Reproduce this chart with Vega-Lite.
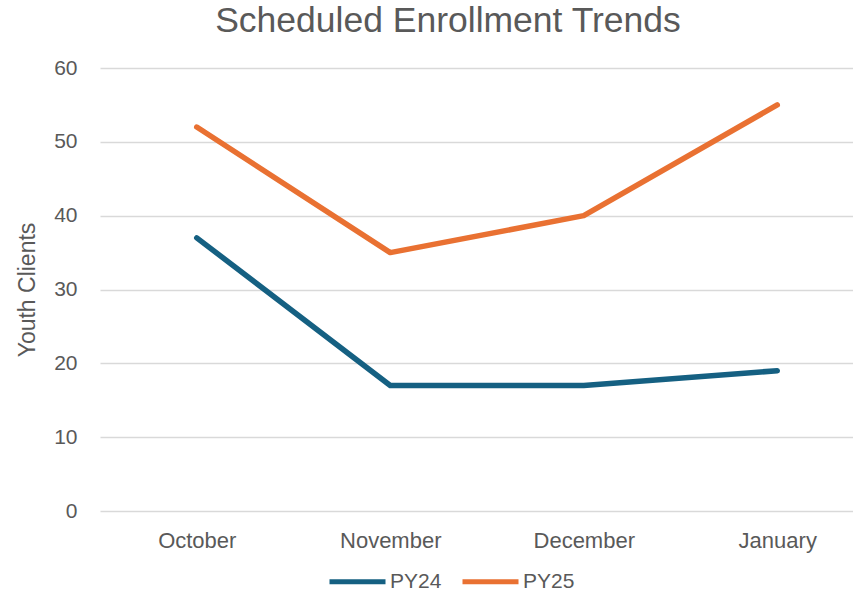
{
  "$schema": "https://vega.github.io/schema/vega-lite/v6.json",
  "autosize": {"type": "none"},
  "width": 774,
  "height": 443,
  "padding": {"left": 100, "top": 68, "right": 0, "bottom": 80},
  "background": "white",
  "config": {
    "view": {"stroke": null},
    "font": "Liberation Sans"
  },
  "title": {
    "text": "Scheduled Enrollment Trends",
    "anchor": "middle",
    "dx": -39,
    "offset": 18,
    "fontSize": 35.5,
    "font": "Liberation Sans",
    "fontWeight": "normal",
    "color": "#595959"
  },
  "data": {
    "values": [
      {"month": "October", "series": "PY24", "clients": 37},
      {"month": "November", "series": "PY24", "clients": 17},
      {"month": "December", "series": "PY24", "clients": 17},
      {"month": "January", "series": "PY24", "clients": 19},
      {"month": "October", "series": "PY25", "clients": 52},
      {"month": "November", "series": "PY25", "clients": 35},
      {"month": "December", "series": "PY25", "clients": 40},
      {"month": "January", "series": "PY25", "clients": 55}
    ]
  },
  "mark": {"type": "line", "strokeWidth": 5.5, "strokeCap": "round", "strokeJoin": "round"},
  "encoding": {
    "x": {
      "field": "month",
      "type": "ordinal",
      "sort": ["October", "November", "December", "January"],
      "scale": {"type": "point", "padding": 0.5},
      "axis": {
        "title": null,
        "domain": false,
        "ticks": false,
        "grid": false,
        "labelAngle": 0,
        "labelFontSize": 22,
        "labelColor": "#595959",
        "labelPadding": 19
      }
    },
    "y": {
      "field": "clients",
      "type": "quantitative",
      "scale": {"domain": [0, 60]},
      "axis": {
        "title": "Youth Clients",
        "titleFontSize": 23,
        "titleFontWeight": "normal",
        "titleColor": "#595959",
        "titlePadding": 14,
        "values": [0, 10, 20, 30, 40, 50, 60],
        "domain": false,
        "ticks": false,
        "grid": true,
        "gridColor": "#D9D9D9",
        "gridWidth": 1.5,
        "labelFontSize": 21,
        "labelColor": "#595959",
        "labelPadding": 23
      }
    },
    "color": {
      "field": "series",
      "type": "nominal",
      "scale": {"domain": ["PY24", "PY25"], "range": ["#156082", "#E97132"]},
      "legend": {
        "title": null,
        "orient": "none",
        "direction": "horizontal",
        "legendX": 227,
        "legendY": 483,
        "symbolType": "stroke",
        "symbolSize": 3136,
        "symbolStrokeWidth": 5,
        "labelFontSize": 21,
        "labelColor": "#595959",
        "labelOffset": 2,
        "columnPadding": 10
      }
    }
  }
}
